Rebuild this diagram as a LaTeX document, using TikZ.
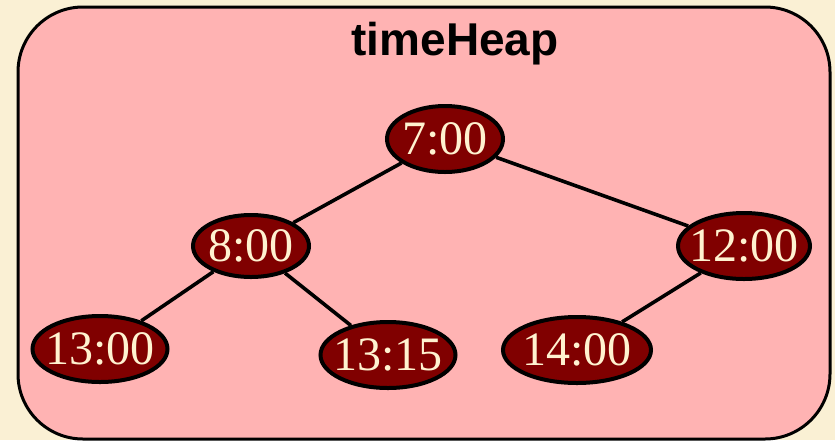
\documentclass[tikz,border=0pt]{standalone}
\usepackage{fontspec}
\setmainfont{Liberation Serif}
\setsansfont{Liberation Sans}
\usetikzlibrary{shapes.geometric}
\definecolor{paper}{HTML}{FAF0D4}
\definecolor{heapbg}{HTML}{FFB3B3}
\definecolor{keyred}{HTML}{800000}
\definecolor{keytext}{HTML}{FFF2D0}
\begin{document}
\begin{tikzpicture}[
    x=1pt, y=-1pt,
    frame/.style ={draw, line width=3pt, fill=heapbg, rounded corners=65pt},
    key/.style   ={draw, ellipse, line width=4pt, fill=keyred, text=keytext,
                   inner xsep=-8pt, inner ysep=0pt, minimum height=66pt,
                   font=\fontsize{48}{48}\selectfont},
    link/.style  ={line width=3.6pt},
]
\fill[paper] (0,0) rectangle (835,440);
\useasboundingbox (0,0) rectangle (835,440);
\draw[frame] (18,7) rectangle (830,439);
\node[font=\sffamily\bfseries\fontsize{46}{46}\selectfont] (title) at (455,44) {timeHeap};
% heap nodes
\node[key, minimum width=116pt] (t700)  at (445,139) {7:00};
\node[key, minimum width=116pt, minimum height=62pt] (t800)  at (251,246) {8:00};
\node[key, minimum width=127pt] (t1200) at (744,246) {12:00};
\node[key, minimum width=135pt] (t1300) at (100,349) {13:00};
\node[key, minimum width=135pt] (t1315) at (388,355) {13:15};
\node[key, minimum width=148pt] (t1400) at (577,350) {14:00};
\draw[link] (t700)  -- (t800);
\draw[link] (t700)  -- (t1200);
\draw[link] (t800)  -- (t1300);
\draw[link] (t800)  -- (t1315);
\draw[link] (t1200) -- (t1400);
\end{tikzpicture}
\end{document}
